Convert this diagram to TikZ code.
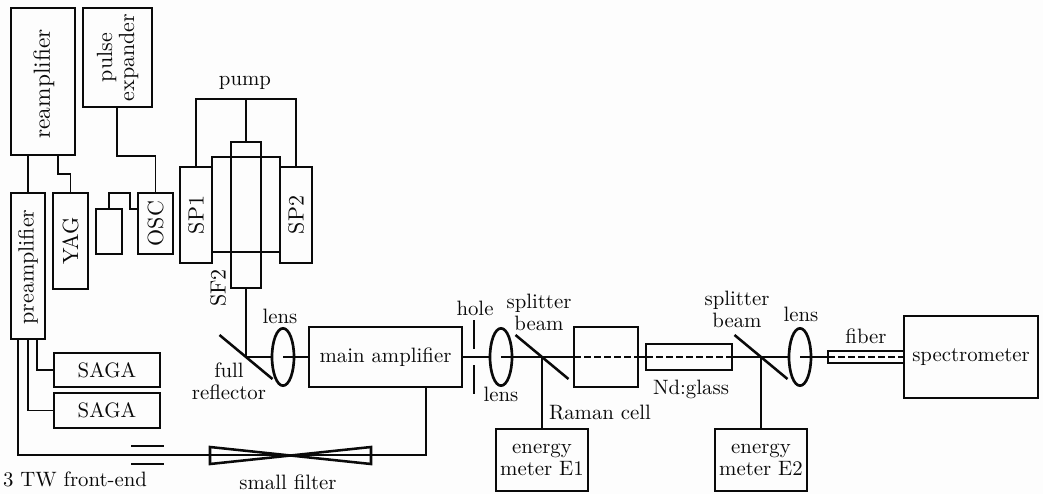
\documentclass[tikz,border=0pt]{standalone}
\usepackage{fontspec}
\setmainfont{lmroman10-regular}[Extension=.otf]
\usetikzlibrary{positioning,shapes.geometric}
\definecolor{paper}{HTML}{FDFDFD}
\definecolor{ink}{HTML}{0A0A0A}
\tikzset{
  x=0.75pt, y=-0.75pt,
  every node/.style={font=\fontsize{15.6}{16.5}\selectfont, text=ink, inner sep=0pt, outer sep=0pt},
  devbox/.style={draw=ink, line width=2pt},
  lensbody/.style={draw=ink, line width=2pt, ellipse, minimum width=16.5pt, minimum height=43pt},
  beam/.style={draw=ink, line width=1.3pt},
  fibrebeam/.style={beam, dash pattern=on 5pt off 2.5pt},
  mirror/.style={draw=ink, line width=1.9pt},
  sidelabel/.style={rotate=90, align=center, font=\fontsize{16.5}{16.5}\selectfont},
  toplabel/.style={align=center},
}
\newcommand{\devbox}[6]{%
  \node[devbox, minimum width={(#3-#2)*0.75pt}, minimum height={(#5-#4)*0.75pt}, align=center]
    (#1) at ({(#2+#3)/2},{(#4+#5)/2}) {#6};
}
\begin{document}
\begin{tikzpicture}
\fill[paper] (0,0) rectangle (1043,494);
\useasboundingbox (0,0) rectangle (1043,494);

% Front-end boxes
\devbox{reamp}{11}{75}{8}{155}{}
\devbox{expander}{83}{152}{8}{107}{}
\devbox{preamp}{11}{45}{193}{339}{}
\devbox{yag}{53}{88}{193}{289}{}
\devbox{idler}{96}{122}{209}{254}{}
\devbox{osc}{138}{173}{193}{254}{}
\devbox{sagaa}{54}{160}{353}{387}{SAGA}
\devbox{sagab}{54}{160}{393}{428}{SAGA}

% Pumped stage
\devbox{spa}{180}{212}{167}{263}{}
\devbox{spb}{280}{312}{167}{263}{}
\devbox{sfa}{212}{280}{157}{252}{}
\devbox{sfb}{231}{261}{142}{288}{}

% Beam line
\devbox{mainamp}{309}{462}{327}{387}{main amplifier}
\devbox{raman}{574}{638}{327}{387}{}
\devbox{glass}{646}{732}{344}{370}{}
\devbox{fiber}{828}{904}{351}{363}{}
\devbox{spectro}{904}{1038}{316}{398}{spectrometer}
\devbox{metera}{496}{588}{429}{491}{energy\\meter E1}
\devbox{meterb}{715}{807}{429}{491}{energy\\meter E2}

% Lenses
\foreach \name/\x in {lensa/283, lensb/501, lensc/800} {
  \node[lensbody] (\name) at (\x,357) {};
}

% Side labels
\node[sidelabel, font=\fontsize{17.5}{17.5}\selectfont] (reamptext) at (44,84) {reamplifier};
\node[sidelabel] (expandertext) at (expander.center) {pulse\\expander};
\node[sidelabel] (preamptext) at (28,267) {preamplifier};
\node[sidelabel] (yagtext) at (yag.center) {YAG};
\node[sidelabel] (osctext) at (osc.center) {OSC};
\node[sidelabel] (spatext) at (spa.center) {SP1};
\node[sidelabel] (spbtext) at (spb.center) {SP2};
\node[sidelabel] (sfbtext) at (218,288) {SF2};

% Plain labels
\node[toplabel] (pumptext) at (245,83) {pump};
\node[toplabel] (lensatext) at (280,316) {lens};
\node[toplabel] (holetext) at (475,308) {hole};
\node[toplabel] (lensbtext) at (501,394) {lens};
\node[toplabel] (lensctext) at (801,314) {lens};
\node[toplabel] (fibertext) at (866,336) {fiber};
\node[toplabel] (reflectortext) at (229,381) {full\\reflector};
\node[toplabel] (splitatext) at (539,312) {splitter\\beam};
\node[toplabel] (splitbtext) at (737,309) {splitter\\beam};
\node[toplabel] (ramantext) at (600,413) {Raman cell};
\node[toplabel] (glasstext) at (691,389) {Nd:glass};
\node[toplabel] (fronttext) at (75,479) {3 TW front-end};
\node[toplabel] (filtertext) at (288,482) {small filter};

% Junctions
\coordinate (bendexp) at (117,156);
\coordinate (bendyag) at (58,174);
\coordinate (bendidler) at (130,193);
\coordinate (pumpbar) at (246,99);
\coordinate (mirra) at (246,357);
\coordinate (mirrb) at (542,357);
\coordinate (mirrc) at (761,357);
\coordinate (front) at (18,455);
\coordinate (mainout) at (426,455);

% Front-end connections
\draw[beam] (preamp.north) -- (preamp.north |- reamp.south);
\draw[beam] (bendyag |- reamp.south) -- (bendyag) -| (yag.north);
\draw[beam] (bendexp |- expander.south) -- (bendexp) -| (osc.north);
\draw[beam] (idler.north) |- (bendidler) |- (osc.west |- 0,209);
\draw[beam] (196,167) |- (pumpbar) -| (296,167);
\draw[beam] (pumpbar) -- (sfb.north);
\foreach \x/\saga in {28/sagab, 37/sagaa} {
  \draw[beam] (\x,339) |- (\saga.west);
}

% Beam path
\draw[beam] (sfb.south) -- (mirra);
\draw[beam] (mirra) -- (lensa.west);
\draw[beam] (lensa.center) -- (mainamp.west);
\draw[beam] (mainamp.east) -- (lensb.west);
\draw[beam] (lensb.center) -- (raman.west);
\draw[beam] (raman.east) -- (glass.west);
\draw[beam] (glass.east) -- (lensc.west);
\draw[beam] (lensc.center) -- (fiber.west);
\draw[fibrebeam] (raman.west) -- (raman.east);
\draw[fibrebeam] (glass.west) -- (glass.east);
\draw[fibrebeam] (fiber.west) -- (fiber.east);
\draw[beam] (mirrb) -- (metera.north);
\draw[beam] (mirrc) -- (meterb.north);
\draw[beam] (mainout |- mainamp.south) -- (mainout) -- (front) -- (front |- preamp.south);

% Mirrors, hole, pinhole and filter
\foreach \c in {mirra, mirrb, mirrc} {
  \draw[mirror] (\c) ++(-26.5,-22) -- ++(53,44);
}
\draw[mirror] (131,446) -- (164,446);
\draw[mirror] (131,464) -- (164,464);
\draw[mirror] (474,320) -- (474,349);
\draw[mirror] (474,365) -- (474,394);
\draw[mirror] (210,447) -- (371,464) -- (371,447) -- (210,464) -- cycle;

\end{tikzpicture}
\end{document}
